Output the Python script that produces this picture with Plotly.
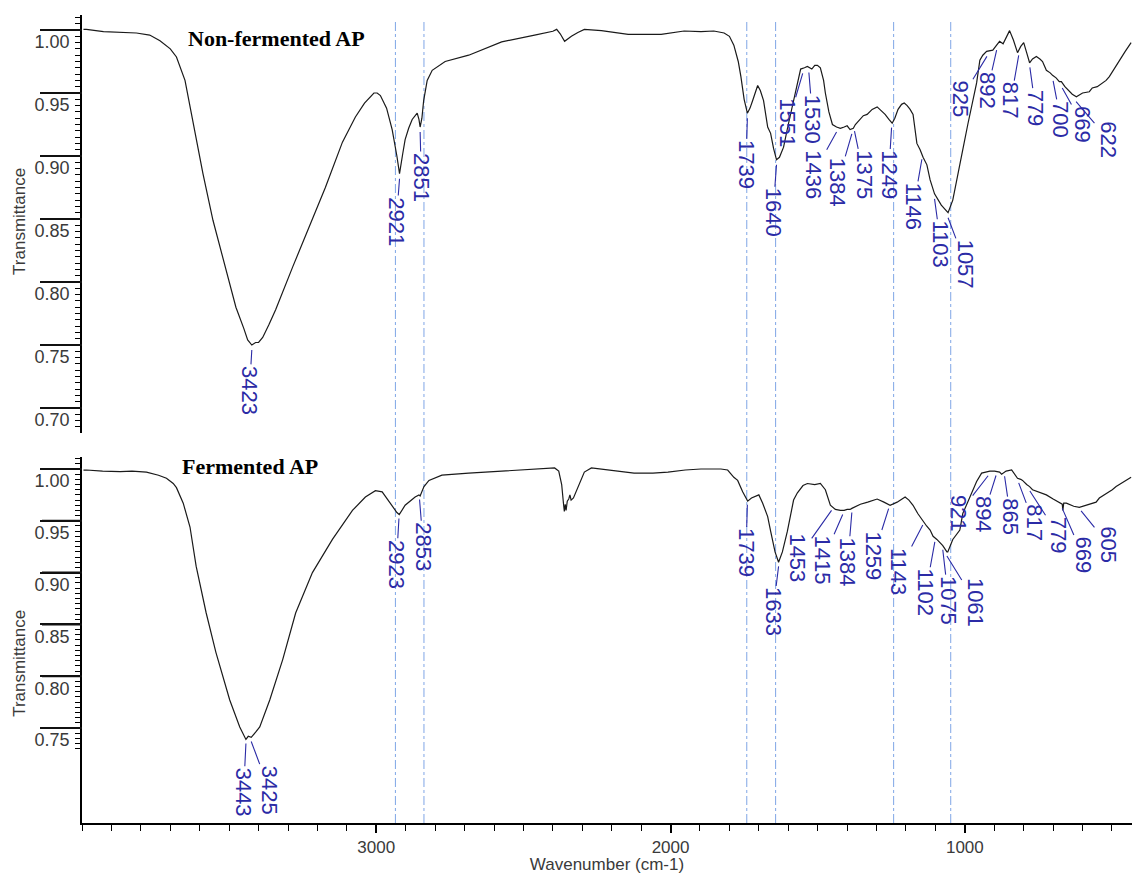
import numpy as np
import plotly.graph_objects as go

# ---------------- data ----------------
top_wn = [3995, 3985, 3927, 3870, 3815, 3770, 3735, 3700, 3679, 3650, 3616, 3589, 3555, 3514, 3477, 3450,
          3437, 3423, 3410, 3400, 3386, 3365, 3342, 3284, 3227, 3173, 3115, 3071, 3040, 3008, 2997, 2986,
          2965, 2946, 2930, 2921, 2910, 2902, 2890, 2878, 2861, 2855, 2851, 2845, 2839, 2827, 2810, 2766,
          2686, 2574, 2462, 2400, 2387, 2375, 2360, 2337, 2315, 2293, 2235, 2144, 2032, 1954, 1897, 1853,
          1818, 1800, 1785, 1770, 1761, 1750, 1739, 1730, 1721, 1704, 1695, 1684, 1670, 1660, 1650, 1640,
          1630, 1616, 1600, 1582, 1570, 1558, 1545, 1535, 1520, 1510, 1501, 1491, 1480, 1474, 1462, 1450,
          1436, 1423, 1410, 1400, 1390, 1379, 1372, 1365, 1355, 1345, 1332, 1315, 1298, 1285, 1271, 1258,
          1247, 1238, 1227, 1215, 1206, 1196, 1186, 1176, 1163, 1152, 1142, 1129, 1118, 1103, 1095, 1080,
          1061, 1057, 1041, 1025, 1007, 990, 973, 960, 949, 939, 926, 905, 892, 882, 870, 860, 848, 835,
          821, 810, 800, 790, 780, 770, 757, 745, 736, 723, 710, 702, 690, 679, 672, 660, 645, 635, 621,
          600, 577, 567, 550, 520, 509, 490, 476, 455, 435]
top_T = [1.0005, 1.0005, 0.9987, 0.998, 0.9976, 0.996, 0.9915, 0.985, 0.9786, 0.960, 0.918, 0.886, 0.849,
         0.812, 0.780, 0.763, 0.754, 0.750, 0.752, 0.752, 0.756, 0.766, 0.778, 0.812, 0.844, 0.875, 0.911,
         0.931, 0.942, 0.950, 0.950, 0.948, 0.938, 0.921, 0.900, 0.886, 0.902, 0.913, 0.922, 0.929, 0.934,
         0.929, 0.923, 0.930, 0.944, 0.960, 0.968, 0.975, 0.980, 0.9906, 0.996, 0.999, 1.0005, 0.997, 0.991,
         0.995, 0.998, 1.0005, 0.9995, 0.9966, 0.9966, 0.9992, 0.9987, 0.9992, 0.9976, 0.995, 0.988, 0.975,
         0.963, 0.945, 0.934, 0.938, 0.944, 0.956, 0.952, 0.944, 0.923, 0.918, 0.906, 0.897, 0.899, 0.907,
         0.925, 0.944, 0.958, 0.969, 0.970, 0.971, 0.969, 0.972, 0.972, 0.970, 0.960, 0.950, 0.935, 0.925,
         0.923, 0.922, 0.923, 0.924, 0.921, 0.922, 0.925, 0.927, 0.930, 0.932, 0.933, 0.937, 0.939, 0.936,
         0.933, 0.929, 0.926, 0.930, 0.937, 0.941, 0.942, 0.940, 0.937, 0.933, 0.910, 0.905, 0.899, 0.893,
         0.881, 0.870, 0.867, 0.861, 0.856, 0.855, 0.865, 0.885, 0.905, 0.925, 0.944, 0.958, 0.976, 0.980,
         0.983, 0.984, 0.988, 0.991, 0.989, 0.994, 0.9995, 0.992, 0.982, 0.987, 0.990, 0.982, 0.974, 0.977,
         0.979, 0.977, 0.975, 0.968, 0.966, 0.964, 0.962, 0.959, 0.959, 0.955, 0.951, 0.949, 0.947, 0.950,
         0.951, 0.954, 0.955, 0.960, 0.963, 0.970, 0.976, 0.983, 0.990]

bot_wn = [3995, 3985, 3930, 3870, 3830, 3781, 3740, 3713, 3690, 3679, 3656, 3633, 3612, 3578, 3545, 3498,
          3464, 3452, 3443, 3435, 3425, 3410, 3396, 3362, 3318, 3274, 3217, 3149, 3081, 3037, 3003, 2980,
          2965, 2946, 2930, 2922, 2912, 2902, 2868, 2855, 2851, 2845, 2838, 2821, 2777, 2686, 2574, 2462,
          2394, 2380, 2370, 2364, 2361, 2358, 2355, 2351, 2346, 2342, 2338, 2330, 2313, 2293, 2269, 2178,
          2124, 2060, 2009, 1950, 1897, 1829, 1806, 1785, 1772, 1755, 1738, 1725, 1711, 1700, 1687, 1670,
          1660, 1645, 1633, 1620, 1603, 1582, 1569, 1550, 1535, 1510, 1491, 1474, 1457, 1440, 1423, 1410,
          1400, 1390, 1384, 1375, 1355, 1330, 1298, 1275, 1254, 1230, 1203, 1190, 1176, 1160, 1146, 1130,
          1118, 1108, 1095, 1075, 1061, 1058, 1041, 1017, 1007, 990, 973, 960, 943, 926, 915, 899, 882,
          875, 860, 841, 830, 821, 810, 804, 790, 780, 770, 745, 723, 700, 680, 669, 667, 664, 655, 630,
          611, 590, 570, 554, 543, 520, 499, 486, 460, 435]
bot_T = [0.999, 0.999, 0.998, 0.9974, 0.998, 0.997, 0.994, 0.991, 0.986, 0.982, 0.967, 0.944, 0.906, 0.861,
         0.823, 0.777, 0.751, 0.744, 0.739, 0.742, 0.741, 0.746, 0.751, 0.777, 0.816, 0.861, 0.900, 0.932,
         0.960, 0.973, 0.979, 0.978, 0.972, 0.964, 0.958, 0.956, 0.960, 0.965, 0.973, 0.975, 0.974, 0.979,
         0.983, 0.989, 0.994, 0.996, 0.998, 1.000, 1.001, 0.998, 0.985, 0.967, 0.959, 0.966, 0.960, 0.969,
         0.971, 0.975, 0.970, 0.972, 0.983, 0.997, 1.001, 0.998, 0.996, 0.996, 0.997, 0.999, 1.000, 1.000,
         0.999, 0.992, 0.989, 0.978, 0.969, 0.972, 0.974, 0.975, 0.967, 0.954, 0.940, 0.920, 0.910, 0.920,
         0.940, 0.970, 0.977, 0.984, 0.986, 0.985, 0.986, 0.980, 0.965, 0.961, 0.960, 0.960, 0.961, 0.961,
         0.962, 0.963, 0.966, 0.968, 0.971, 0.968, 0.965, 0.968, 0.973, 0.970, 0.965, 0.957, 0.951, 0.945,
         0.941, 0.935, 0.932, 0.926, 0.920, 0.920, 0.932, 0.941, 0.957, 0.968, 0.978, 0.988, 0.996, 0.997,
         0.998, 0.998, 0.997, 0.995, 0.998, 0.999, 0.995, 0.991, 0.990, 0.989, 0.985, 0.983, 0.980, 0.977,
         0.975, 0.971, 0.968, 0.966, 0.960, 0.967, 0.967, 0.964, 0.963, 0.965, 0.967, 0.968, 0.972, 0.976,
         0.980, 0.983, 0.988, 0.992]

# peak labels: (peak wavenumber, label-centre wavenumber, label-centre transmittance)
top_peaks = [3423, 2921, 2851, 1739, 1640, 1551, 1530, 1436, 1384, 1375, 1249, 1146, 1103, 1057,
             925, 892, 817, 779, 700, 669, 622]
top_lab_wn = [3431, 2932, 2847, 1744, 1652, 1601, 1517, 1517, 1432, 1344, 1259, 1174, 1082, 997,
              1014, 923, 844, 760, 675, 600, 512]
top_lab_T = [0.714, 0.848, 0.883, 0.893, 0.855, 0.926, 0.929, 0.885, 0.879, 0.885, 0.885, 0.860, 0.830,
             0.814, 0.945, 0.952, 0.944, 0.938, 0.929, 0.925, 0.913]

bot_peaks = [3443, 3425, 2923, 2853, 1739, 1633, 1453, 1415, 1384, 1259, 1143, 1102, 1075, 1061,
             921, 894, 865, 817, 779, 669, 605]
bot_lab_wn = [3451, 3363, 2932, 2840, 1744, 1652, 1568, 1483, 1398, 1310, 1225, 1133, 1055, 963,
              1021, 936, 845, 766, 682, 600, 512]
bot_lab_T = [0.688, 0.690, 0.908, 0.925, 0.919, 0.862, 0.914, 0.912, 0.910, 0.916, 0.901, 0.881, 0.873,
             0.871, 0.957, 0.956, 0.954, 0.948, 0.936, 0.917, 0.927]

guide_lines = [2935, 2838, 1741, 1643, 1242, 1048]

top_yticks = [0.70, 0.75, 0.80, 0.85, 0.90, 0.95, 1.00]
bot_yticks = [0.75, 0.80, 0.85, 0.90, 0.95, 1.00]
x_ticks = [1000, 2000, 3000]

# ---------------- figure ----------------
BLUE = "#2b2ba6"
fig = go.Figure()
fig.add_trace(go.Scatter(x=top_wn, y=top_T, mode="lines", line=dict(color="#1a1a1a", width=1.2),
                         xaxis="x", yaxis="y", showlegend=False, hoverinfo="skip"))
fig.add_trace(go.Scatter(x=bot_wn, y=bot_T, mode="lines", line=dict(color="#1a1a1a", width=1.2),
                         xaxis="x2", yaxis="y2", showlegend=False, hoverinfo="skip"))

XR = [4000, 432]
PLOT_W = 1132 - 82
TOP_DOM, TOP_RNG = [0.4827, 1.0], [0.6802, 1.0119]
BOT_DOM, BOT_RNG = [0.0, 0.453], [0.6583, 1.0116]

tick_font = dict(family="Liberation Sans, Arial", size=18, color="#3a3a3a")
yax_common = dict(showline=True, linecolor="black", linewidth=1.5, ticks="outside", ticklen=40,
                  tickwidth=2, tickcolor="#111111", showgrid=False, zeroline=False,
                  tickfont=tick_font, ticklabelstandoff=-33, ticklabelshift=12, tickformat=".2f")

fig.update_layout(
    width=1132, height=874,
    margin=dict(l=82, r=0, t=15, b=51),
    plot_bgcolor="white", paper_bgcolor="white",
    xaxis=dict(domain=[0, 1], range=XR, visible=False, anchor="y"),
    yaxis=dict(domain=TOP_DOM, range=TOP_RNG, tickvals=top_yticks, anchor="x",
               minor=dict(ticks="outside", ticklen=5, tickcolor="black", tickwidth=1,
                          tickvals=list(np.round(np.arange(0.680, 1.012, 0.005), 3))),
               **yax_common),
    xaxis2=dict(domain=[0, 1], range=XR, anchor="y2", showline=True, linecolor="black", linewidth=1.5,
                ticks="outside", ticklen=8, tickwidth=1.5, tickcolor="black", tickvals=x_ticks,
                showgrid=False, zeroline=False,
                tickfont=dict(family="Liberation Sans, Arial", size=17, color="#3a3a3a"),
                minor=dict(ticks="outside", ticklen=6, tickcolor="black", tickwidth=1.2, dtick=100),
                title=dict(text="Wavenumber (cm-1)", standoff=2,
                           font=dict(family="Liberation Sans, Arial", size=17, color="#3a3a3a"))),
    yaxis2=dict(domain=BOT_DOM, range=BOT_RNG, tickvals=bot_yticks, anchor="x2",
                minor=dict(ticks="outside", ticklen=5, tickcolor="black", tickwidth=1,
                           tickvals=list(np.round(np.arange(0.730, 1.012, 0.005), 3))),
                **yax_common),
)

# long major tick marks, positioned in paper coordinates from the axis ranges
def to_paper(v, dom, rng):
    return dom[0] + (v - rng[0]) / (rng[1] - rng[0]) * (dom[1] - dom[0])

for vals, dom, rng in ((top_yticks, TOP_DOM, TOP_RNG), (bot_yticks, BOT_DOM, BOT_RNG)):
    for v in vals:
        yp = to_paper(v, dom, rng)
        fig.add_shape(type="line", xref="paper", yref="paper", x0=-40 / PLOT_W, x1=0, y0=yp, y1=yp,
                      line=dict(color="#111111", width=2))

# guide lines spanning both panels
for g in guide_lines:
    fig.add_shape(type="line", xref="x2", yref="paper", x0=g, x1=g, y0=0, y1=0.994,
                  line=dict(color="#7fa6e6", width=1, dash="dashdot"), layer="below")

# peak labels
def add_labels(wn, T, peaks, lab_wn, lab_T, xr, yr):
    wa = np.array(wn[::-1], dtype=float)
    ta = np.array(T[::-1], dtype=float)
    for p, lx, ly in zip(peaks, lab_wn, lab_T):
        py = float(np.interp(p, wa, ta)) - 0.004
        fig.add_annotation(x=p, y=py, xref=xr, yref=yr, ax=lx, ay=ly, axref=xr, ayref=yr,
                           text=str(p), textangle=90, showarrow=True, arrowhead=0, arrowwidth=1.1,
                           arrowcolor=BLUE, standoff=0,
                           font=dict(family="Liberation Sans, Arial", size=22, color=BLUE))

add_labels(top_wn, top_T, top_peaks, top_lab_wn, top_lab_T, "x", "y")
add_labels(bot_wn, bot_T, bot_peaks, bot_lab_wn, bot_lab_T, "x2", "y2")

# panel titles
title_font = dict(family="Liberation Serif, Times New Roman", size=22, color="black")
fig.add_annotation(text="<b>Non-fermented AP</b>", xref="paper", yref="paper", x=0.185, y=0.9715,
                   xanchor="center", yanchor="middle", showarrow=False, font=title_font)
fig.add_annotation(text="<b>Fermented AP</b>", xref="paper", yref="paper", x=0.16, y=0.4418,
                   xanchor="center", yanchor="middle", showarrow=False, font=title_font)

# y-axis titles
ytf = dict(family="Liberation Sans, Arial", size=17, color="#3a3a3a")
fig.add_annotation(text="Transmittance", xref="paper", yref="paper", x=-0.059, y=0.744,
                   xanchor="center", yanchor="middle", textangle=-90, showarrow=False, font=ytf)
fig.add_annotation(text="Transmittance", xref="paper", yref="paper", x=-0.059, y=0.197,
                   xanchor="center", yanchor="middle", textangle=-90, showarrow=False, font=ytf)

fig.write_html("out.html", config={"displayModeBar": False},
               post_script="document.body.style.margin='0';")
